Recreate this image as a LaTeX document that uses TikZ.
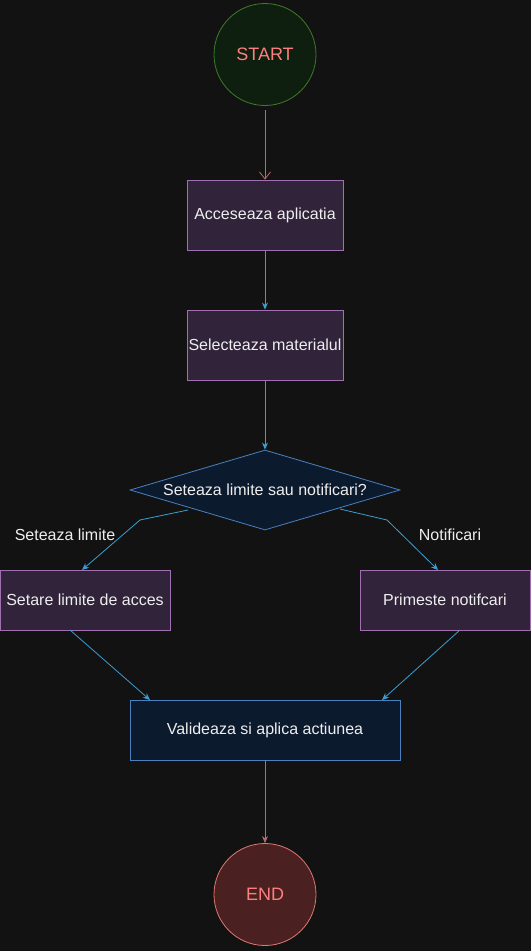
\documentclass[tikz,border=0pt]{standalone}
\usepackage{fontspec}
\setmainfont{Liberation Sans}
\usetikzlibrary{arrows.meta,shapes.geometric}
\definecolor{bg}{HTML}{121212}
\definecolor{pfill}{HTML}{31233A}
\definecolor{pdraw}{HTML}{A070B0}
\definecolor{bfill}{HTML}{0C1A2E}
\definecolor{bdraw}{HTML}{4A80C0}
\definecolor{blueline}{HTML}{3C9ED0}
\definecolor{pinkline}{HTML}{B86B6B}
\definecolor{gfill}{HTML}{0F1F0F}
\definecolor{gdraw}{HTML}{3E7A28}
\definecolor{rfill}{HTML}{4A2020}
\definecolor{rdraw}{HTML}{E07870}
\definecolor{salmon}{HTML}{FF7F7F}
\definecolor{txt}{HTML}{EEEEEE}
\tikzset{
  pbox/.style={rectangle,draw=pdraw,fill=pfill,line width=0.8pt,text=txt,font=\fontsize{16}{18}\selectfont,inner sep=0pt},
  bbox/.style={rectangle,draw=bdraw,fill=bfill,line width=0.8pt,text=txt,font=\fontsize{16}{18}\selectfont,inner sep=0pt},
  termnode/.style={circle,minimum size=102pt,inner sep=0pt,line width=0.8pt,font=\fontsize{18}{20}\selectfont,text=salmon},
  bluearrow/.style={draw=blueline,line width=0.8pt,-{Stealth[length=7pt,width=6pt]}},
  lbl/.style={text=txt,font=\fontsize{16}{18}\selectfont,inner sep=0pt}
}
\begin{document}
\begin{tikzpicture}[x=1pt,y=-1pt]
\fill[bg] (0,0) rectangle (531,951);
\useasboundingbox (0,0) rectangle (531,951);
\node[termnode,draw=gdraw,fill=gfill] (start) at (265,54.5) {START};
\node[pbox,minimum width=156pt,minimum height=70pt] (acc) at (265,215) {Acceseaza aplicatia};
\node[pbox,minimum width=156pt,minimum height=70pt] (sel) at (265,345) {Selecteaza materialul};
\node[diamond,draw=bdraw,fill=bfill,line width=0.8pt,text=txt,font=\fontsize{16}{18}\selectfont,inner sep=0pt,aspect=3.375,minimum width=270pt,minimum height=80pt] (dec) at (265,490) {Seteaza limite sau notificari?};
\node[pbox,minimum width=170pt,minimum height=60pt] (lim) at (85,600) {Setare limite de acces};
\node[pbox,minimum width=170pt,minimum height=60pt] (not) at (445,600) {Primeste notifcari};
\node[bbox,minimum width=270pt,minimum height=60pt] (val) at (265,730) {Valideaza si aplica actiunea};
\node[termnode,draw=rdraw,fill=rfill] (end) at (265,894.5) {END};

\coordinate (s1) at (265,110);
\draw[draw=pinkline,line width=0.8pt,-{Straight Barb[length=7pt,width=11pt]}] (s1) -- (acc.north);
\draw[bluearrow] (acc.south) -- (sel.north);
\draw[bluearrow] (sel.south) -- (dec.north);
\coordinate (dl) at (188,510);
\coordinate (dlb) at (140,520);
\coordinate (dle) at (82,570);
\coordinate (dr) at (340,509);
\coordinate (drb) at (387,520);
\coordinate (dre) at (438,570);
\draw[bluearrow] (dl) -- (dlb) -- (dle);
\draw[bluearrow] (dr) -- (drb) -- (dre);
\node[lbl] (l1) at (65,535) {Seteaza limite};
\node[lbl] (l2) at (450,535) {Notificari};
\coordinate (la) at (70,630);
\coordinate (lb) at (150,700);
\coordinate (ra) at (460,630);
\coordinate (rb) at (382,700);
\draw[bluearrow] (la) -- (lb);
\draw[bluearrow] (ra) -- (rb);
\draw[draw=pinkline,line width=0.8pt,-{Stealth[length=7pt,width=6pt]}] (val.south) -- (end.north);
\end{tikzpicture}
\end{document}
